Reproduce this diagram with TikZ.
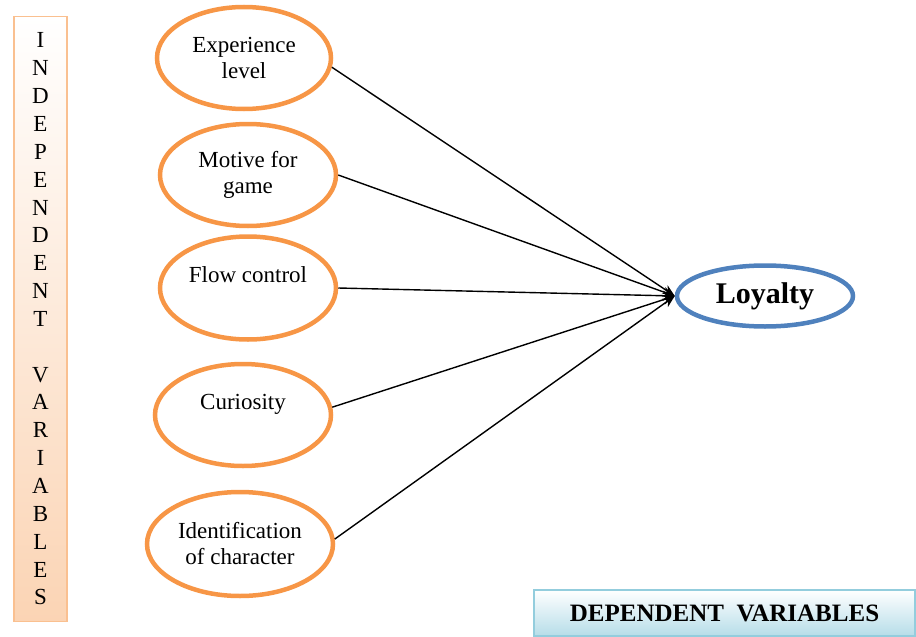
\documentclass[tikz,border=0pt]{standalone}
\usepackage{fontspec}
\setmainfont{Liberation Serif}
\usetikzlibrary{shapes.geometric,arrows.meta}

\definecolor{varorange}{HTML}{F79646}
\definecolor{varblue}{HTML}{4F81BD}
\definecolor{peachline}{HTML}{FAC090}
\definecolor{peachfill}{HTML}{FBD4B4}
\definecolor{aqualine}{HTML}{93CDDD}
\definecolor{aquafill}{HTML}{B6DDE8}

\begin{document}
\begin{tikzpicture}[x=1pt,y=-1pt,
  indep/.style={draw=varorange, line width=4.5pt, ellipse, align=center,
    font={\fontsize{23}{26}\selectfont}, inner sep=0pt,
    minimum width=176pt, minimum height=102pt},
  dep/.style={draw=varblue, line width=4.5pt, ellipse, inner sep=0pt,
    font={\fontsize{30}{33}\selectfont\bfseries},
    minimum width=176pt, minimum height=61pt},
  link/.style={line width=1.4pt, -{Stealth[length=12pt,width=10pt]}},
  banner/.style={rectangle, line width=1.5pt, inner sep=0pt}]
  \useasboundingbox (0,0) rectangle (916,637);

  % independent variables
  \node[banner, draw=peachline, top color=white, bottom color=peachfill,
    minimum width=53pt, minimum height=605pt, align=center,
    font={\fontsize{23}{27.85}\selectfont}] (indeplabel) at (40.5,319)
    {I\\N\\D\\E\\P\\E\\N\\D\\E\\N\\T\\~\\V\\A\\R\\I\\A\\B\\L\\E\\S};

  \node[indep, minimum width=174pt] (experience) at (244,58) {Experience\\level};
  \node[indep] (motive) at (248,175) {Motive for\\game};
  \node[indep, minimum height=103pt] (flow) at (248,288) {Flow control\\~};
  \node[indep] (curiosity) at (243,415) {Curiosity\\~};
  \node[indep, minimum width=186pt, minimum height=104pt] (identification) at (240,544)
    {Identification\\of character};

  % dependent variable
  \node[dep] (loyalty) at (765,296) {Loyalty};

  \node[banner, draw=aqualine, top color=white, bottom color=aquafill,
    minimum width=381pt, minimum height=46pt,
    font={\fontsize{25}{28}\selectfont\bfseries}] (deplabel) at (724.5,613)
    {DEPENDENT\ \ VARIABLES};

  \draw[link] (experience.-6) -- (loyalty.west);
  \draw[link] (motive.east) -- (loyalty.west);
  \draw[link] (flow.east) -- (loyalty.west);
  \draw[link] (curiosity.5) -- (loyalty.west);
  \draw[link] (identification.3) -- (loyalty.west);
\end{tikzpicture}
\end{document}
